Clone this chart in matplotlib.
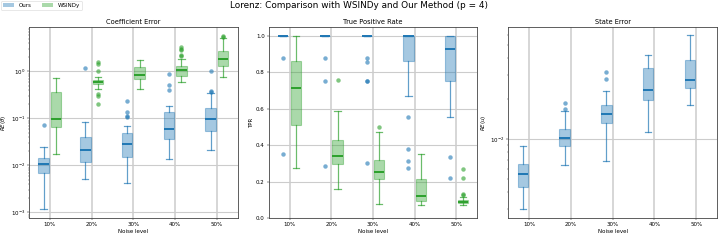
import matplotlib
matplotlib.use("Agg")
import matplotlib.pyplot as plt
from matplotlib.patches import Patch

noise_levels = ["10%", "20%", "30%", "40%", "50%"]

# Coefficient error - Ours
coef_ours_lo = [0.00118, 0.0051, 0.0042, 0.0136, 0.021]
coef_ours_q1 = [0.00676, 0.0116, 0.0153, 0.036, 0.053]
coef_ours_med = [0.011, 0.0216, 0.028, 0.060, 0.099]
coef_ours_q3 = [0.0141, 0.0407, 0.0496, 0.139, 0.171]
coef_ours_hi = [0.025, 0.0836, 0.0676, 0.183, 0.35]
coef_ours_fliers = [[0.072], [1.16], [0.234, 0.134, 0.114, 0.107],
                    [0.863, 0.504, 0.394], [1.03, 0.375, 0.36]]

# Coefficient error - WSINDy
coef_ws_lo = [0.0174, 0.428, 0.42, 0.59, 0.78]
coef_ws_q1 = [0.0665, 0.546, 0.687, 0.796, 1.28]
coef_ws_med = [0.098, 0.60, 0.836, 1.10, 1.80]
coef_ws_q3 = [0.363, 0.665, 1.22, 1.30, 2.76]
coef_ws_hi = [0.73, 0.78, 1.74, 1.80, 5.1]
coef_ws_fliers = [[], [1.6, 1.41, 1.0, 0.335, 0.294, 0.2], [],
                  [3.35, 3.08, 2.8, 2.26, 2.09], [5.83, 5.5]]

# True positive rate - Ours
tpr_ours_lo = [1.0, 1.0, 1.0, 0.667, 0.554]
tpr_ours_q1 = [1.0, 1.0, 1.0, 0.859, 0.75]
tpr_ours_med = [1.0, 1.0, 1.0, 1.0, 0.927]
tpr_ours_q3 = [1.0, 1.0, 1.0, 1.0, 1.0]
tpr_ours_hi = [1.0, 1.0, 1.0, 1.0, 1.0]
tpr_ours_fliers = [[0.876, 0.353], [0.876, 0.75, 0.287],
                   [0.876, 0.857, 0.75, 0.75, 0.3],
                   [0.556, 0.377, 0.313, 0.272], [0.335, 0.22]]

# True positive rate - WSINDy
tpr_ws_lo = [0.274, 0.159, 0.077, 0.071, 0.071]
tpr_ws_q1 = [0.508, 0.294, 0.212, 0.093, 0.082]
tpr_ws_med = [0.713, 0.338, 0.252, 0.12, 0.088]
tpr_ws_q3 = [0.861, 0.428, 0.32, 0.214, 0.10]
tpr_ws_hi = [1.0, 0.587, 0.47, 0.351, 0.118]
tpr_ws_fliers = [[], [0.759], [0.5], [], [0.269, 0.219, 0.133, 0.126]]

# State error - Ours
state_ours_lo = [0.0030, 0.00636, 0.0069, 0.0113, 0.0178]
state_ours_q1 = [0.00436, 0.0089, 0.0132, 0.0195, 0.0241]
state_ours_med = [0.00545, 0.0102, 0.0153, 0.0231, 0.0275]
state_ours_q3 = [0.00647, 0.0118, 0.0179, 0.0337, 0.0386]
state_ours_hi = [0.0089, 0.0161, 0.0229, 0.0421, 0.0594]
state_ours_fliers = [[], [0.0186, 0.0169], [0.0316, 0.0282], [], []]

BLUE = "tab:blue"
GREEN = "tab:green"


def make_stats(lo, q1, med, q3, hi, fl):
    return [dict(whislo=a, q1=b, med=c, q3=d, whishi=e, fliers=f)
            for a, b, c, d, e, f in zip(lo, q1, med, q3, hi, fl)]


def draw(ax, stats, color, offset):
    pos = [i + offset for i in range(len(stats))]
    ax.bxp(stats, positions=pos, widths=0.25, patch_artist=True,
           capwidths=0.15, manage_ticks=False,
           boxprops=dict(facecolor=color, edgecolor=color, alpha=0.4, linewidth=2),
           whiskerprops=dict(color=color, alpha=0.7, linewidth=2.2),
           capprops=dict(color=color, alpha=0.7, linewidth=2.2),
           medianprops=dict(color=color, linewidth=3.5),
           flierprops=dict(marker="o", markerfacecolor=color, markeredgecolor="none",
                           markersize=8, alpha=0.6))


fig = plt.figure(figsize=(17.95, 6.05), dpi=40)
axes = fig.subplots(1, 3)
fig.subplots_adjust(left=0.0404, right=0.9986, bottom=0.099, top=0.888, wspace=0.148)

ax1, ax2, ax3 = axes
draw(ax1, make_stats(coef_ours_lo, coef_ours_q1, coef_ours_med, coef_ours_q3, coef_ours_hi, coef_ours_fliers), BLUE, -0.15)
draw(ax1, make_stats(coef_ws_lo, coef_ws_q1, coef_ws_med, coef_ws_q3, coef_ws_hi, coef_ws_fliers), GREEN, 0.15)
ax1.set_yscale("log")
ax1.set_ylim(7.6e-4, 8.8)
ax1.set_title("Coefficient Error", fontsize=12)
ax1.set_ylabel(r"$RE(\theta)$")

draw(ax2, make_stats(tpr_ours_lo, tpr_ours_q1, tpr_ours_med, tpr_ours_q3, tpr_ours_hi, tpr_ours_fliers), BLUE, -0.15)
draw(ax2, make_stats(tpr_ws_lo, tpr_ws_q1, tpr_ws_med, tpr_ws_q3, tpr_ws_hi, tpr_ws_fliers), GREEN, 0.15)
ax2.set_ylim(0, 1.047)
ax2.set_title("True Positive Rate", fontsize=12)
ax2.set_ylabel("TPR")

draw(ax3, make_stats(state_ours_lo, state_ours_q1, state_ours_med, state_ours_q3, state_ours_hi, state_ours_fliers), BLUE, -0.15)
ax3.set_yscale("log")
ax3.set_ylim(2.57e-3, 6.85e-2)
ax3.set_title("State Error", fontsize=12)
ax3.set_ylabel(r"$RE(u)$")

for ax in axes:
    ax.set_xlim(-0.5, 4.5)
    ax.set_xticks(range(len(noise_levels)))
    ax.set_xticklabels(noise_levels)
    ax.set_xlabel("Noise level")
    ax.grid(True, axis="x", which="major", color="#d6d6d6", linewidth=3.5)
    ax.grid(True, axis="y", which="major", color="#cccccc", linewidth=2)
    ax.set_axisbelow(True)
    for s in ax.spines.values():
        s.set_color("#444444")
        s.set_linewidth(1.5)

handles = [Patch(facecolor=BLUE, alpha=0.4, label="Ours"),
           Patch(facecolor=GREEN, alpha=0.4, label="WSINDy")]
fig.legend(handles=handles, loc="upper left", bbox_to_anchor=(0.0, 1.0), ncol=2,
           fontsize=10, frameon=True, borderaxespad=0.1)
fig.suptitle("Lorenz: Comparison with WSINDy and Our Method (p = 4)", fontsize=16, y=0.995)

fig.savefig("out.png", dpi=40)
